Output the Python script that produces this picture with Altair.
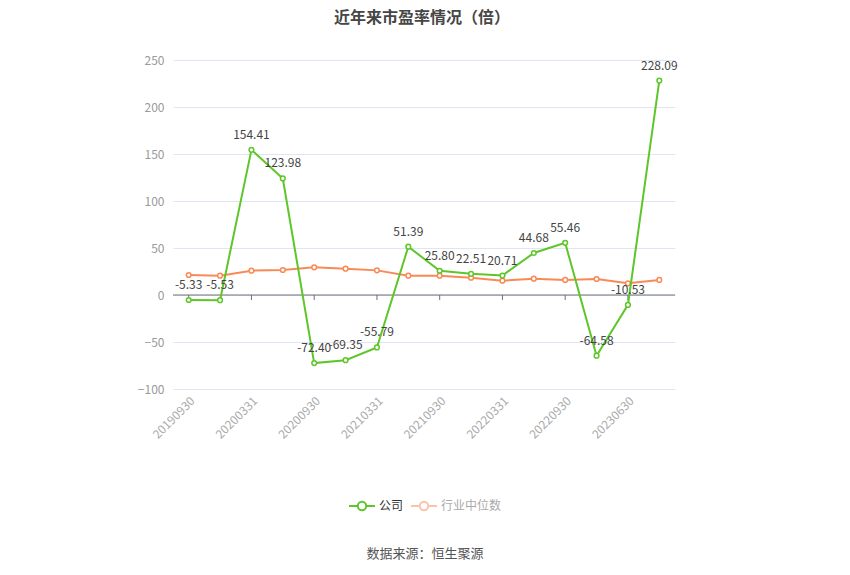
import altair as alt
import pandas as pd

dates = ["20190930", "20191231", "20200331", "20200630", "20200930", "20201231",
         "20210331", "20210630", "20210930", "20211231", "20220331", "20220630",
         "20220930", "20230331", "20230630", "20230930"]
company = [-5.33, -5.53, 154.41, 123.98, -72.40, -69.35, -55.79, 51.39,
           25.80, 22.51, 20.71, 44.68, 55.46, -64.58, -10.53, 228.09]
industry = [21.3, 20.6, 25.9, 26.6, 29.4, 28.0, 26.2, 20.6,
            20.6, 18.4, 15.2, 17.4, 16.0, 17.0, 12.4, 16.0]
tick_dates = dates[::2]

GREEN = "#5ec62a"
ORANGE = "#f98a55"
FONT = "Noto Sans CJK SC"

df_c = pd.DataFrame({"date": dates, "value": company})
df_c["label"] = [f"{v:.2f}" for v in company]
df_i = pd.DataFrame({"date": dates, "value": industry})
df_t = pd.DataFrame({"date": tick_dates})
one = pd.DataFrame({"k": [0]})

W, H = 502, 329

x = alt.X("date:O", sort=dates,
          scale=alt.Scale(type="point", padding=0.5, domain=dates),
          axis=alt.Axis(values=tick_dates, labelAngle=-45, labelAlign="right",
                        labelBaseline="top", labelColor="#aaaaaa", labelFontSize=12,
                        labelFont=FONT, ticks=False, domain=False,
                        title=None, labelPadding=6, grid=False))
y = alt.Y("value:Q", scale=alt.Scale(domain=[-100, 250], nice=False),
          axis=alt.Axis(values=[-100, -50, 0, 50, 100, 150, 200, 250], title=None,
                        domain=False, ticks=False, labelColor="#999999",
                        labelFontSize=12, labelFont=FONT,
                        labelPadding=9, gridColor="#e0e6f1", gridWidth=1))

grid_base = alt.Chart(df_c).mark_point(opacity=0).encode(x=x, y=y)

zero = alt.Chart(one).mark_rule(color="#6e7079", strokeWidth=1).encode(y=alt.datum(0))
ticks = alt.Chart(df_t).mark_rule(color="#6e7079", strokeWidth=1).encode(
    x=alt.X("date:O", sort=dates), y=alt.datum(0), y2=alt.value(240))

line_i = alt.Chart(df_i).mark_line(color=ORANGE, strokeWidth=2).encode(
    x=alt.X("date:O", sort=dates), y="value:Q")
pts_i = alt.Chart(df_i).mark_point(color=ORANGE, filled=True, fill="white",
                                   stroke=ORANGE, strokeWidth=1.5, size=22, opacity=1).encode(
    x=alt.X("date:O", sort=dates), y="value:Q")

line_c = alt.Chart(df_c).mark_line(color=GREEN, strokeWidth=2).encode(
    x=alt.X("date:O", sort=dates), y="value:Q")
pts_c = alt.Chart(df_c).mark_point(color=GREEN, filled=True, fill="white",
                                   stroke=GREEN, strokeWidth=1.5, size=22, opacity=1).encode(
    x=alt.X("date:O", sort=dates), y="value:Q")
labels_c = alt.Chart(df_c).mark_text(dy=-15, fontSize=12, color="#444444", font=FONT).encode(
    x=alt.X("date:O", sort=dates), y="value:Q", text="label:N")

# Title (as text mark above the plot)
title = alt.Chart(one).mark_text(text="近年来市盈率情况（倍）", align="center", baseline="middle",
                                 fontSize=16, color="#464646", font=FONT,
                                 fontWeight="bold").encode(
    x=alt.value(W / 2 - 2), y=alt.value(-42))

# Legend (manual)
LY = 446
leg = []
leg.append(alt.Chart(one).mark_rule(color=GREEN, strokeWidth=2).encode(
    x=alt.value(176), x2=alt.value(202), y=alt.value(LY)))
leg.append(alt.Chart(one).mark_point(filled=True, fill="white", stroke=GREEN,
                                     strokeWidth=2, size=70, opacity=1).encode(
    x=alt.value(189), y=alt.value(LY)))
leg.append(alt.Chart(one).mark_text(text="公司", align="left", baseline="middle",
                                    fontSize=12, color="#333333", font=FONT).encode(
    x=alt.value(206), y=alt.value(LY)))
leg.append(alt.Chart(one).mark_rule(color="#fcc2ac", strokeWidth=2).encode(
    x=alt.value(238), x2=alt.value(264), y=alt.value(LY)))
leg.append(alt.Chart(one).mark_point(filled=True, fill="white", stroke="#fcc2ac",
                                     strokeWidth=2, size=70, opacity=1).encode(
    x=alt.value(251), y=alt.value(LY)))
leg.append(alt.Chart(one).mark_text(text="行业中位数", align="left", baseline="middle",
                                    fontSize=12, color="#aaaaaa", font=FONT).encode(
    x=alt.value(268), y=alt.value(LY)))

source = alt.Chart(one).mark_text(text="数据来源：恒生聚源", align="center", baseline="middle",
                                  fontSize=13, color="#555555", font=FONT).encode(
    x=alt.value(W / 2 + 1), y=alt.value(494))

chart = alt.layer(grid_base, zero, ticks, line_i, pts_i, line_c, pts_c, labels_c,
                  title, *leg, source).properties(
    width=W, height=H,
    autosize=alt.AutoSizeParams(type="none"),
    padding={"left": 165, "top": 52, "right": 167, "bottom": 178},
).configure_view(stroke=None)

chart.save("out.html", embed_options={"renderer": "svg", "actions": False})
